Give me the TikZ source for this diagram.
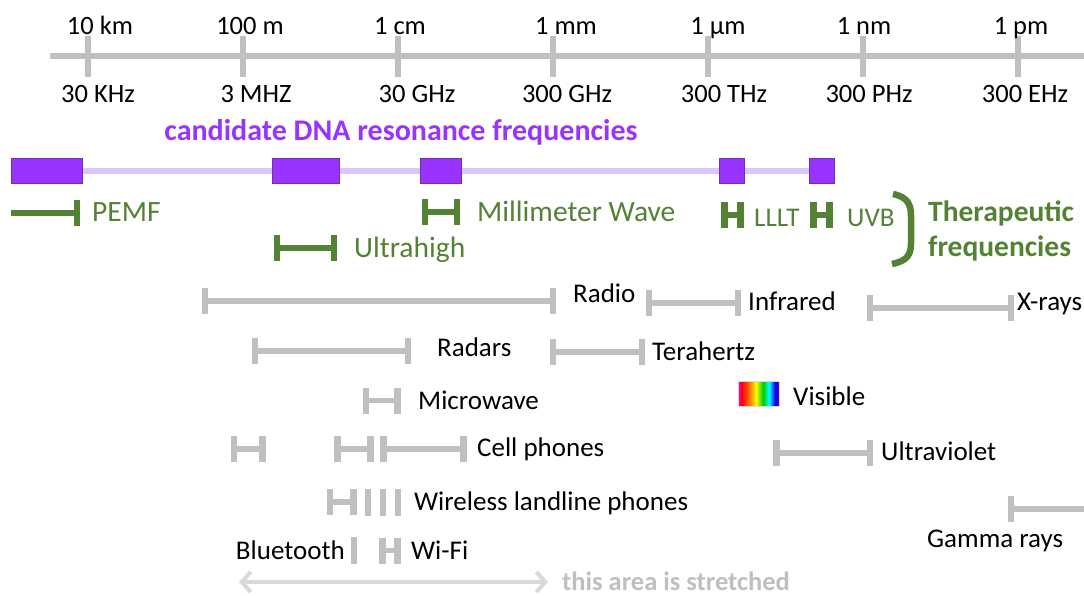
\documentclass[tikz,border=0pt]{standalone}
\usepackage{fontspec}
\setmainfont{Carlito}
\usetikzlibrary{arrows.meta}
\definecolor{gr}{HTML}{BFBFBF}
\definecolor{lg}{HTML}{D9D9D9}
\definecolor{gn}{HTML}{548235}
\definecolor{pu}{HTML}{9933FF}
\definecolor{pud}{HTML}{7030A0}
\definecolor{pul}{HTML}{DDC4FB}
\newcommand{\rangebar}[5]{% x1 x2 y linestyle tickstyle
  \draw[#4] (#1,#3) -- (#2,#3);
  \draw[#5] (#1,#3-13) -- (#1,#3+13);
  \draw[#5] (#2,#3-13) -- (#2,#3+13);
}
\newcommand{\vbar}[3]{\draw[#3] (#1,#2-13.5) -- (#1,#2+13.5);}
\begin{document}
\begin{tikzpicture}[x=1pt,y=-1pt,
  gl/.style={draw=gr,line width=5.5pt},
  gt/.style={draw=gr,line width=6.5pt},
  nl/.style={draw=gn,line width=5.5pt},
  nt/.style={draw=gn,line width=6.5pt},
  ht/.style={draw=gn,line width=7.5pt},
  ax/.style={font=\fontsize{26.5}{30}\selectfont,anchor=base,inner sep=0pt},
  lbl/.style={font=\fontsize{27}{30}\selectfont,anchor=base west,inner sep=0pt},
  gnl/.style={font=\fontsize{29.5}{34}\selectfont,text=gn,anchor=base west,inner sep=0pt},
  gns/.style={font=\fontsize{27}{32}\selectfont,text=gn,anchor=base west,inner sep=0pt},
  pbox/.style={fill=pu,draw=pud,line width=0.8pt}]
\useasboundingbox (0,0) rectangle (1084,595);
% axis
\draw[draw=gr,line width=6pt] (50,56) -- (1084,56);
\foreach \t in {88,243,398,553,708,863,1018}{\draw[draw=gr,line width=6pt] (\t,36) -- (\t,77);}
\node[ax] (t1) at (100,34) {10 km};
\node[ax] (t2) at (250,34) {100 m};
\node[ax] (t3) at (400,34) {1 cm};
\node[ax] (t4) at (566,34) {1 mm};
\node[ax] (t5) at (718,34) {1 µm};
\node[ax] (t6) at (864,34) {1 nm};
\node[ax] (t7) at (1021,34) {1 pm};
\node[ax] (b1) at (98,102) {30 KHz};
\node[ax] (b2) at (256,102) {3 MHZ};
\node[ax] (b3) at (417,102) {30 GHz};
\node[ax] (b4) at (567,102) {300 GHz};
\node[ax] (b5) at (724,102) {300 THz};
\node[ax] (b6) at (869,102) {300 PHz};
\node[ax] (b7) at (1025,102) {300 EHz};
% candidate DNA
\node[font=\bfseries\fontsize{30}{34}\selectfont,text=pu,anchor=base,inner sep=0pt] (title) at (401,140) {candidate DNA resonance frequencies};
\draw[draw=pul,line width=6pt] (11,171) -- (833,171);
\draw[pbox] (11,158) rectangle (82,183);
\draw[pbox] (272,158) rectangle (339,183);
\draw[pbox] (420,158) rectangle (461,183);
\draw[pbox] (719,158) rectangle (744,183);
\draw[pbox] (809,158) rectangle (834,183);
% therapeutic
\draw[nl] (11,213) -- (77,213);
\draw[nt] (77,200) -- (77,226);
\node[gnl] (pemf) at (92,221) {PEMF};
\rangebar{425}{457}{212}{nl}{nt}
\node[gnl] (mmw) at (477,221) {Millimeter Wave};
\rangebar{277}{334}{248}{nl}{nt}
\node[gnl] (uh) at (354,257) {Ultrahigh};
\rangebar{724.5}{740.3}{215}{draw=gn,line width=6pt}{ht}
\node[gns] (lllt) at (754,226) {LLLT};
\rangebar{813.7}{829.5}{215}{draw=gn,line width=6pt}{ht}
\node[gns] (uvb) at (847,226) {UVB};
\draw[draw=gn,line width=6.5pt] (893,194) .. controls (908,197) and (911,205) .. (911,216) -- (911,243) .. controls (911,255) and (907,261) .. (892,264);
\node[font=\bfseries\fontsize{29.5}{34}\selectfont,text=gn,anchor=base west,inner sep=0pt] (ther) at (928,221) {Therapeutic};
\node[font=\bfseries\fontsize{29.5}{34}\selectfont,text=gn,anchor=base west,inner sep=0pt] (freq) at (928,256) {frequencies};
% spectrum bands
\rangebar{205}{553}{301}{gl}{gt}
\node[lbl] (radio) at (573,302) {Radio};
\rangebar{649}{738}{303}{gl}{gt}
\node[lbl] (ir) at (748,310) {Infrared};
\rangebar{870}{1011}{308}{gl}{gt}
\node[lbl] (xr) at (1017,310) {X-rays};
\rangebar{255}{408}{351}{gl}{gt}
\node[lbl] (radar) at (437,356) {Radars};
\rangebar{553}{642}{352}{gl}{gt}
\node[lbl] (thz) at (652,360) {Terahertz};
\rangebar{366}{397.4}{400.5}{gl}{gt}
\node[lbl] (mw) at (418,409) {Microwave};
% visible rainbow
\shade[left color=magenta!80!red,right color=red] (738,381) rectangle (742,406);
\shade[left color=red,right color=orange] (742,381) rectangle (750,406);
\shade[left color=orange,right color=yellow] (750,381) rectangle (756,406);
\shade[left color=yellow,right color=green!80!black] (756,381) rectangle (763,406);
\shade[left color=green!80!black,right color=cyan] (763,381) rectangle (769,406);
\shade[left color=cyan,right color=blue] (769,381) rectangle (775,406);
\shade[left color=blue,right color=violet!70!blue] (775,381) rectangle (779,406);
\draw[draw=gr!60,line width=0.6pt] (738,381) rectangle (779,406);
\node[lbl] (vis) at (793,405) {Visible};
% cell phones
\rangebar{234}{262.7}{449}{gl}{gt}
\rangebar{337.3}{370.7}{449}{gl}{gt}
\rangebar{383.3}{463.7}{449}{gl}{gt}
\node[lbl] (cell) at (477,456) {Cell phones};
\rangebar{776.7}{870}{453}{gl}{gt}
\node[lbl] (uv) at (881,460) {Ultraviolet};
% wireless
\rangebar{330}{353.4}{502}{gl}{gt}
\vbar{368}{502}{gt}
\vbar{383}{502}{gt}
\vbar{398}{502}{gt}
\node[lbl] (wl) at (414,510) {Wireless landline phones};
% gamma
\draw[gl] (1011,509) -- (1084,509);
\draw[gt] (1011,496) -- (1011,522);
\node[lbl] (gamma) at (927,547) {Gamma rays};
% bluetooth / wifi
\node[lbl,anchor=base east] (bt) at (345,559) {Bluetooth};
\vbar{354}{550.5}{gt}
\rangebar{382.3}{397.7}{550.5}{gl}{gt}
\node[lbl] (wifi) at (411,559) {Wi-Fi};
% stretched arrow
\coordinate (aL) at (239,582);
\coordinate (aR) at (548,582);
\draw[draw=lg,line width=4pt,{Straight Barb[length=9pt,width=20pt]}-{Straight Barb[length=9pt,width=20pt]}] (aL) -- (aR);
\node[font=\bfseries\fontsize{26.5}{30}\selectfont,text=gr,anchor=base west,inner sep=0pt] (str) at (562,590) {this area is stretched};
\end{tikzpicture}
\end{document}
